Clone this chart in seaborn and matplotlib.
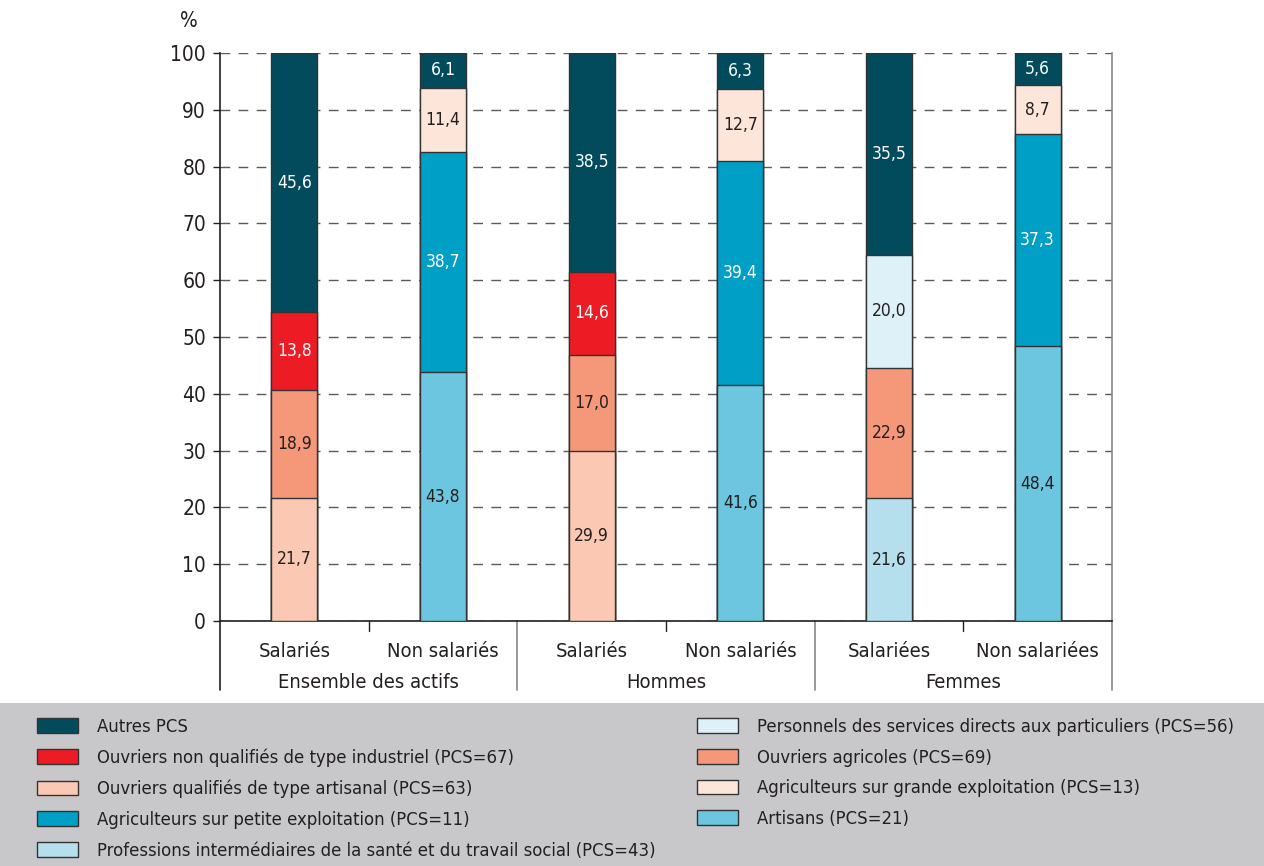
import matplotlib
matplotlib.use("Agg")
import matplotlib.pyplot as plt
import matplotlib.patches as mpatches
import pandas as pd
import seaborn as sns

# Data
BARS = ["Ens_Sal", "Ens_Non", "H_Sal", "H_Non", "F_Sal", "F_Non"]
BAR_LABELS = ["Salariés", "Non salariés", "Salariés", "Non salariés",
              "Salariées", "Non salariées"]
GROUPS = ["Ensemble des actifs", "Hommes", "Femmes"]

# stacking order from bottom to top for each bar
SEGMENTS = {
    "Ens_Sal": [("Ouvriers qualifiés de type artisanal (PCS=63)", 21.7),
                ("Ouvriers agricoles (PCS=69)", 18.9),
                ("Ouvriers non qualifiés de type industriel (PCS=67)", 13.8),
                ("Autres PCS", 45.6)],
    "Ens_Non": [("Artisans (PCS=21)", 43.8),
                ("Agriculteurs sur petite exploitation (PCS=11)", 38.7),
                ("Agriculteurs sur grande exploitation (PCS=13)", 11.4),
                ("Autres PCS", 6.1)],
    "H_Sal": [("Ouvriers qualifiés de type artisanal (PCS=63)", 29.9),
              ("Ouvriers agricoles (PCS=69)", 17.0),
              ("Ouvriers non qualifiés de type industriel (PCS=67)", 14.6),
              ("Autres PCS", 38.5)],
    "H_Non": [("Artisans (PCS=21)", 41.6),
              ("Agriculteurs sur petite exploitation (PCS=11)", 39.4),
              ("Agriculteurs sur grande exploitation (PCS=13)", 12.7),
              ("Autres PCS", 6.3)],
    "F_Sal": [("Professions intermédiaires de la santé et du travail social (PCS=43)", 21.6),
              ("Ouvriers agricoles (PCS=69)", 22.9),
              ("Personnels des services directs aux particuliers (PCS=56)", 20.0),
              ("Autres PCS", 35.5)],
    "F_Non": [("Artisans (PCS=21)", 48.4),
              ("Agriculteurs sur petite exploitation (PCS=11)", 37.3),
              ("Agriculteurs sur grande exploitation (PCS=13)", 8.7),
              ("Autres PCS", 5.6)],
}

CATEGORIES = [
    "Autres PCS",
    "Ouvriers non qualifiés de type industriel (PCS=67)",
    "Ouvriers qualifiés de type artisanal (PCS=63)",
    "Agriculteurs sur petite exploitation (PCS=11)",
    "Professions intermédiaires de la santé et du travail social (PCS=43)",
    "Personnels des services directs aux particuliers (PCS=56)",
    "Ouvriers agricoles (PCS=69)",
    "Agriculteurs sur grande exploitation (PCS=13)",
    "Artisans (PCS=21)",
]
COLORS = ["#014b5d", "#ed1c24", "#fbc8b3", "#009fc5", "#b5dfed",
          "#dff1f8", "#f59879", "#fde5da", "#6cc6df"]
DARK_CATS = {"Autres PCS", "Ouvriers non qualifiés de type industriel (PCS=67)",
             "Agriculteurs sur petite exploitation (PCS=11)"}

TEXT = "#231f20"

# long table with cumulative tops
rows = []
for b in BARS:
    bottom = 0.0
    for level, (cat, val) in enumerate(SEGMENTS[b]):
        rows.append({"bar": b, "cat": cat, "value": val, "bottom": bottom,
                     "top": bottom + val, "level": level})
        bottom += val
df = pd.DataFrame(rows)

sns.set_theme(style="white")
plt.rcParams["font.family"] = ["DejaVu Sans"]
plt.rcParams["font.stretch"] = "condensed"

fig = plt.figure(figsize=(12.64, 8.66), dpi=100)
ax = fig.add_axes([220 / 1264, 1 - 621 / 866, 892 / 1264, 568 / 866])

palette = dict(zip(CATEGORIES, COLORS))

# draw tallest layer first, lower layers over it
for level in sorted(df["level"].unique(), reverse=True):
    sub = df[df["level"] == level]
    for cat in sub["cat"].unique():
        part = sub[sub["cat"] == cat]
        sns.barplot(data=part, x="bar", y="top", order=BARS, ax=ax,
                    color=palette[cat], saturation=1, errorbar=None,
                    width=0.31, edgecolor="#333333", linewidth=1, zorder=3)

# segment labels
xpos = {b: i for i, b in enumerate(BARS)}
for _, r in df.iterrows():
    ax.text(xpos[r["bar"]], r["bottom"] + r["value"] / 2,
            f"{r['value']:.1f}".replace(".", ","),
            ha="center", va="center", fontsize=12.5, zorder=5,
            color="white" if r["cat"] in DARK_CATS else TEXT)

ax.set_xlim(-0.5, len(BARS) - 0.5)
ax.set_ylim(0, 100)
ax.set_yticks(range(0, 101, 10))
ax.set_yticklabels([str(v) for v in range(0, 101, 10)], fontsize=15, color=TEXT)
ax.tick_params(axis="y", direction="out", length=5, width=1, color=TEXT, pad=5, left=True)
ax.set_xticks(range(len(BARS)))
ax.set_xticklabels(BAR_LABELS, fontsize=14.5, color=TEXT)
ax.tick_params(axis="x", length=0, pad=15)
ax.set_xlabel("")
ax.set_ylabel("")

ax.yaxis.grid(True, linestyle=(0, (7, 6)), color="#5a5a5a", linewidth=1)
ax.set_axisbelow(True)
for g in ax.get_ygridlines():
    g.set_zorder(1)

ax.spines["top"].set_visible(False)
ax.spines["left"].set_color(TEXT)
ax.spines["bottom"].set_color(TEXT)
ax.spines["right"].set_color("#888888")
for s in ["left", "bottom", "right"]:
    ax.spines[s].set_linewidth(1.2)

# group separators and minor ticks below the axis
trans = ax.get_xaxis_transform()
for i, x in enumerate([-0.5, 1.5, 3.5, 5.5]):
    col = "#888888" if i > 0 else TEXT
    ax.plot([x, x], [0, -0.1215], transform=trans, clip_on=False,
            color=col, linewidth=1.2)
for x in [0.5, 2.5, 4.5]:
    ax.plot([x, x], [0, -0.017], transform=trans, clip_on=False,
            color=TEXT, linewidth=1)
for i, gname in enumerate(GROUPS):
    ax.text(2 * i + 0.5, -0.108, gname, transform=trans, ha="center",
            va="center", fontsize=14.5, color=TEXT)

fig.text(189 / 1264, 1 - 21 / 866, "%", ha="center", va="center",
         fontsize=15, color=TEXT)

# legend with grey background
fig.patches.append(mpatches.Rectangle((0, 0), 1, 1 - 703 / 866,
                                      transform=fig.transFigure,
                                      facecolor="#c8c8ca", edgecolor="none",
                                      zorder=0))
handles = [mpatches.Patch(facecolor=c, edgecolor="#333333", linewidth=1)
           for c in COLORS]
leg_kw = dict(frameon=False, fontsize=13.2, handlelength=2.25, handleheight=0.85,
              handletextpad=1.0, labelspacing=0.69, borderaxespad=0,
              borderpad=0, labelcolor=TEXT)
leg1 = fig.legend(handles[:5], CATEGORIES[:5], loc="upper left",
                  bbox_to_anchor=(37 / 1264, 1 - 718 / 866), **leg_kw)
leg2 = fig.legend(handles[5:], CATEGORIES[5:], loc="upper left",
                  bbox_to_anchor=(697 / 1264, 1 - 718 / 866), **leg_kw)

fig.savefig("out.png", dpi=100)
